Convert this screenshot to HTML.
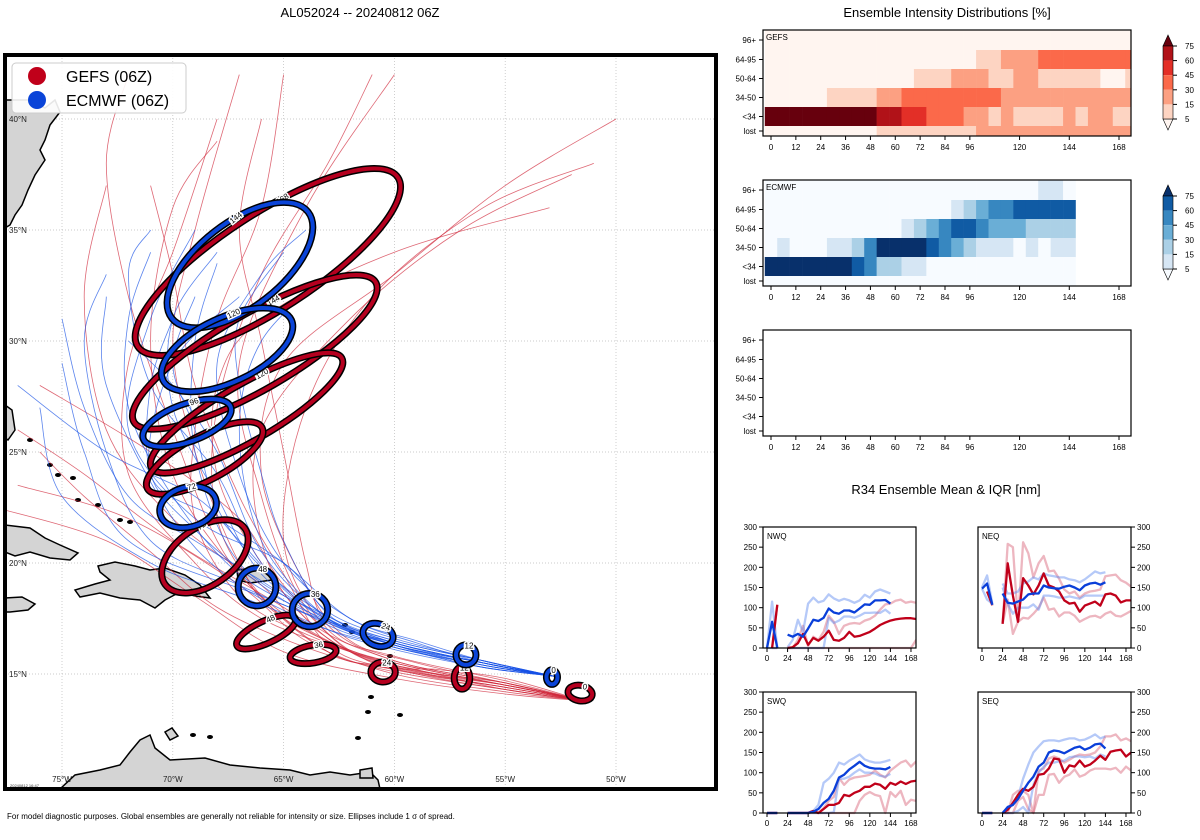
<!DOCTYPE html>
<html><head><meta charset="utf-8">
<style>
html,body{margin:0;padding:0;background:#fff;width:1200px;height:840px;overflow:hidden}
svg{display:block;font-family:"Liberation Sans","DejaVu Sans",sans-serif}
</style></head>
<body>
<svg id="root" width="1200" height="840" viewBox="0 0 1200 840" xmlns="http://www.w3.org/2000/svg">
<defs><clipPath id="mapclip"><rect x="7" y="57" width="707" height="730"/></clipPath></defs>
<text x="360" y="17" text-anchor="middle" font-size="13">AL052024 -- 20240812 06Z</text>
<text x="947" y="17" text-anchor="middle" font-size="13">Ensemble Intensity Distributions [%]</text>
<text x="946" y="494" text-anchor="middle" font-size="13">R34 Ensemble Mean &amp; IQR [nm]</text>
<text x="7" y="819" font-size="8">For model diagnostic purposes. Global ensembles are generally not reliable for intensity or size. Ellipses include 1 σ of spread.</text>
<g id="map"></g>
<g id="heat"></g>
<g id="r34"></g>
</svg>
<script>
// ---------- MAP DATA ----------
const lonTicks=[-75,-70,-65,-60,-55,-50];
const latTicks=[15,20,25,30,35,40];
const gefsTracks=[
[[-51.5,13.8],[-55,14.5],[-60,15.2],[-63,16],[-66,18.5],[-68,22],[-68,27],[-66,33],[-63,38],[-61,42]],
[[-51.5,13.8],[-55,14.6],[-60,15.4],[-65,17.5],[-67,20],[-69,25],[-70,30],[-69,35],[-67,42]],
[[-51.5,13.8],[-55,14.4],[-60,15.3],[-64,17],[-66,19],[-70,22],[-73,26],[-74,32],[-73,37]],
[[-51.5,13.8],[-55,14.6],[-59,15.5],[-62,16.5],[-64,19],[-66,24],[-65,29],[-60,33],[-55,37],[-50,40]],
[[-51.5,13.8],[-55,14.3],[-59,15],[-62,16],[-65,18],[-70,21],[-74,24],[-77,26]],
[[-51.5,13.8],[-55,14.5],[-60,15.5],[-63,16.5],[-66,18.5],[-68,21],[-70,26],[-72,32],[-73,38],[-72,42]],
[[-51.5,13.8],[-55,14.2],[-60,15],[-64,16.5],[-67,19],[-72,22],[-77,23.5]],
[[-51.5,13.8],[-55,14.7],[-60,15.8],[-63,17],[-65,21],[-64,27],[-61,32],[-56,36],[-51,38]],
[[-51.5,13.8],[-55,14.4],[-59,15.1],[-62,16],[-66,17.5],[-69,20],[-72,24],[-72,29],[-70,34],[-68,40]],
[[-51.5,13.8],[-55,14.5],[-60,15.3],[-63,16],[-67,19.5],[-70,24],[-71,30],[-70,36],[-68,39]],
[[-51.5,13.8],[-55,14.8],[-58,15.2],[-61,15.5],[-64,18],[-66,23],[-67,29],[-64,36],[-60,42]],
[[-51.5,13.8],[-55,14.3],[-59,15.2],[-62,16],[-65,19],[-67,22],[-71,25],[-76,28]],
[[-51.5,13.8],[-55,14.6],[-60,15.6],[-64,17.5],[-66,21],[-66,26],[-62,31],[-57,35],[-52,37.5]],
[[-51.5,13.8],[-55,14.1],[-60,14.8],[-65,16],[-69,18.5],[-73,21],[-78,22.5]],
[[-51.5,13.8],[-55,14.5],[-60,15.4],[-64,16.8],[-67,18.5],[-69,22],[-69,26],[-68,31],[-66,36],[-65,42]],
[[-51.5,13.8],[-55,14.4],[-60,15.2],[-63,16.3],[-65,19.5],[-67,23],[-69,28],[-70,33],[-71,37]],
[[-51.5,13.8],[-55,14.6],[-60,15.6],[-63,17.2],[-64,20],[-65,25],[-66,30],[-67,35],[-66,40]],
[[-51.5,13.8],[-55,14.3],[-60,15.1],[-64,16.2],[-68,18],[-71,20.5],[-74,23],[-76,25]],
[[-51.5,13.8],[-55,14.5],[-60,15.5],[-63,16.6],[-66,20],[-68,24],[-68,28],[-66,31],[-60,34],[-53,36]]
];
const ecmfTracks=[
[[-52.8,14.9],[-56,15.5],[-60,16.3],[-63,17.5],[-66,19.5],[-68,23],[-70,27],[-70,31],[-68,34]],
[[-52.8,14.9],[-56,15.4],[-60,16.2],[-63,17.3],[-67,19],[-71,21],[-73,25],[-74,30],[-73,33]],
[[-52.8,14.9],[-56,15.6],[-59,16.5],[-62,17.5],[-65,20],[-67,24],[-68,29],[-66,33],[-64,35]],
[[-52.8,14.9],[-56,15.3],[-60,16.1],[-63,17],[-67,19],[-70,22],[-73,28],[-73,32]],
[[-52.8,14.9],[-56,15.6],[-60,16.6],[-63,17.8],[-65,20],[-69,22],[-72,26],[-71,31],[-69,35]],
[[-52.8,14.9],[-56,15.3],[-59,16],[-62,17],[-66,18.5],[-72,21],[-74,25],[-75,29]],
[[-52.8,14.9],[-56,15.5],[-60,16.4],[-63,17.5],[-66,21],[-67,26],[-66,30],[-63,33]],
[[-52.8,14.9],[-56,15.5],[-59,16.4],[-62,17.5],[-65,20],[-68,22],[-71,24],[-70,29],[-67,32]],
[[-52.8,14.9],[-56,15.6],[-60,16.5],[-63,17.6],[-67,20],[-69,25],[-69,30],[-68,33.5]],
[[-52.8,14.9],[-56,15.3],[-60,16.2],[-63,17],[-67,18.5],[-71,20],[-75,23],[-76,27]],
[[-52.8,14.9],[-56,15.4],[-60,16.3],[-63,17.4],[-66,20],[-68,24],[-71,28],[-72,33],[-71,35]],
[[-52.8,14.9],[-56,15.5],[-60,16.4],[-64,18],[-67,21],[-69,23],[-73,25],[-77,28]],
[[-52.8,14.9],[-56,15.5],[-60,16.4],[-63,17.6],[-66,19.8],[-68,22.5],[-69,26],[-70,29],[-69,32]],
[[-52.8,14.9],[-56,15.4],[-60,16.2],[-63,17.2],[-66,19],[-69,21.5],[-71,24],[-71,28],[-70,31]],
[[-52.8,14.9],[-56,15.6],[-60,16.5],[-63,17.7],[-65,21],[-66,24],[-67,28],[-67,31],[-65,34]],
[[-52.8,14.9],[-56,15.4],[-60,16.3],[-63,17.3],[-66,19.2],[-69,21],[-72,23],[-74,27],[-75,31]],
[[-52.8,14.9],[-56,15.5],[-60,16.4],[-63,17.5],[-66,20.5],[-68,25],[-70,28],[-72,30]],
[[-52.8,14.9],[-56,15.5],[-60,16.3],[-63,17.4],[-67,19.5],[-70,23],[-72,27],[-72,31],[-71,34]]
];
const gefsEllHours=[0,12,24,36,48,72,96,120,144,168];
const gefsEllLon=[-51.62,-56.95,-60.51,-63.67,-65.79,-68.55,-68.56,-66.67,-66.3,-65.71];
const gefsEllLat=[14.14,14.82,15.09,15.9,16.89,20.3,24.73,26.76,29.5,33.56];
const gefsEllRx=[0.55,0.35,0.55,1.05,1.45,2.2,2.93,4.96,6.3,7.0];
const gefsEllRy=[0.35,0.5,0.45,0.4,0.5,1.3,1.0,1.26,1.7,2.15];
const gefsEllRot=[10,0,0,-10,-25,-35,-28,-30,-30,-33];
const ecmfEllHours=[0,12,24,36,48,72,96,120,144];
const ecmfEllLon=[-52.89,-56.77,-60.74,-63.81,-66.2,-69.31,-69.36,-67.55,-66.97];
const ecmfEllLat=[14.86,15.86,16.76,17.88,18.92,22.52,26.31,29.6,33.42];
const ecmfEllRx=[0.25,0.45,0.7,0.8,0.85,1.3,2.1,3.2,3.9];
const ecmfEllRy=[0.33,0.45,0.5,0.75,0.85,0.9,0.85,1.45,1.9];
const ecmfEllRot=[0,0,20,0,0,-15,-20,-25,-38];

const NS='http://www.w3.org/2000/svg';
function mk(tag,attrs,parent){const e=document.createElementNS(NS,tag);for(const k in attrs)e.setAttribute(k,attrs[k]);if(parent)parent.appendChild(e);return e;}
const lonX=lon=>62+(lon+75)*22.16;
const latY=lat=>119+(40-lat)*22.2;
const map=document.getElementById('map');
const mapBg=mk('rect',{x:5,y:55,width:711,height:734,fill:'#fff'},map);


const inner=mk('g',{'clip-path':'url(#mapclip)'},map);
lonTicks.forEach(l=>{const ln=mk('line',{x1:lonX(l),x2:lonX(l),y1:55,y2:789,stroke:'#bbb','stroke-width':0.7,'stroke-dasharray':'1,2'},inner);
});
latTicks.forEach(l=>{const ln=mk('line',{x1:5,x2:716,y1:latY(l),y2:latY(l),stroke:'#bbb','stroke-width':0.7,'stroke-dasharray':'1,2'},inner);
});
// land (approximate outlines)
const lands=[
'M5,100 L30,100 L45,108 L55,100 L60,112 L50,125 L45,140 L40,150 L45,160 L35,175 L28,190 L22,205 L15,215 L10,225 L5,228 Z',
'M5,525 L30,528 L45,538 L60,545 L78,553 L70,560 L50,558 L30,552 L15,556 L5,552 Z',
'M98,566 L115,562 L135,566 L150,570 L165,568 L185,575 L200,585 L210,598 L195,596 L180,592 L165,600 L155,608 L140,600 L120,598 L100,593 L80,597 L75,590 L95,584 L110,580 L100,572 Z',
'M5,598 L22,597 L35,604 L28,610 L10,612 L5,612 Z',
'M237,570 L255,568 L270,572 L272,580 L250,583 L238,580 Z',
'M5,405 L12,410 L15,430 L8,440 L5,438 Z',
'M60,789 L75,775 L100,770 L120,765 L130,752 L140,740 L150,735 L155,748 L170,760 L205,758 L230,765 L260,768 L290,770 L310,775 L330,772 L350,775 L370,772 L378,780 L380,789 Z',
'M165,732 L172,728 L178,736 L170,740 Z',
'M360,770 L372,768 L373,778 L360,778 Z'];
lands.forEach(d=>{const p=mk('path',{d:d,fill:'#d4d4d4',stroke:'#000','stroke-width':1.5},inner);
});
const isles=[[30,440],[50,465],[58,475],[78,500],[98,505],[120,520],[130,522],[73,478],[400,715],[368,712],[371,697],[358,738],[193,735],[210,737],[385,645],[390,656],[352,632],[345,625]];
isles.forEach(p=>{const e=mk('ellipse',{cx:p[0],cy:p[1],rx:3,ry:2,fill:'#000'},inner);
});
// tick labels (on top of land)
lonTicks.forEach(l=>{const t=mk('text',{x:lonX(l),y:782,'font-size':8,'text-anchor':'middle',fill:'#222'},inner);t.textContent=Math.abs(l)+'°W';
});
latTicks.forEach(l=>{const t=mk('text',{x:9,y:latY(l)+3,'font-size':8,fill:'#222'},inner);t.textContent=l+'°N';
});
// tracks
function pathFrom(pts){const P=pts.map(p=>[lonX(p[0]),latY(p[1])]);let d='M'+P[0][0].toFixed(1)+','+P[0][1].toFixed(1);
for(let i=0;i<P.length-1;i++){const p0=P[Math.max(0,i-1)],p1=P[i],p2=P[i+1],p3=P[Math.min(P.length-1,i+2)];
const c1=[p1[0]+(p2[0]-p0[0])/6,p1[1]+(p2[1]-p0[1])/6],c2=[p2[0]-(p3[0]-p1[0])/6,p2[1]-(p3[1]-p1[1])/6];
d+=' C'+c1.map(v=>v.toFixed(1)).join(',')+' '+c2.map(v=>v.toFixed(1)).join(',')+' '+p2.map(v=>v.toFixed(1)).join(',');}
return d;}
gefsTracks.forEach(t=>{const p=mk('path',{d:pathFrom(t),fill:'none',stroke:'#d0283a','stroke-width':0.8,'stroke-opacity':0.7},inner);
});
ecmfTracks.forEach(t=>{const p=mk('path',{d:pathFrom(t),fill:'none',stroke:'#1550e6','stroke-width':0.8,'stroke-opacity':0.7},inner);
});
// ellipses
function ellipses(hours,lon,lat,rx,ry,rot,col,name){
for(let i=hours.length-1;i>=0;i--){const cx=lonX(lon[i]),cy=latY(lat[i]);
const g=mk('g',{transform:`rotate(${rot[i]} ${cx} ${cy})`},inner);

mk('ellipse',{cx:cx,cy:cy,rx:rx[i]*22.16,ry:ry[i]*22.2,fill:'none',stroke:'#000','stroke-width':7},g);
mk('ellipse',{cx:cx,cy:cy,rx:rx[i]*22.16,ry:ry[i]*22.2,fill:'none',stroke:col,'stroke-width':4},g);
const lx=cx+rx[i]*22.16*0.3,ly=cy-ry[i]*22.2*0.95;
const t=mk('text',{x:lx,y:ly+3,'font-size':8,'text-anchor':'middle',fill:'#000',stroke:'#fff','stroke-width':3,'paint-order':'stroke'},g);
t.textContent=hours[i];}}
ellipses(gefsEllHours,gefsEllLon,gefsEllLat,gefsEllRx,gefsEllRy,gefsEllRot,'#b5001f','gefs');
ellipses(ecmfEllHours,ecmfEllLon,ecmfEllLat,ecmfEllRx,ecmfEllRy,ecmfEllRot,'#0a44d8','ecmwf');
const stamp=mk('text',{x:10,y:787,'font-size':4,fill:'#333'},inner);stamp.textContent='20240812 16:47';

// frame
const fr=mk('rect',{x:5,y:55,width:711,height:734,fill:'none',stroke:'#000','stroke-width':4},map);

// legend
const lg=mk('g',{},map);
mk('rect',{x:12,y:63,width:174,height:50,rx:4,fill:'#fff','fill-opacity':0.9,stroke:'#ccc'},lg);
[['GEFS (06Z)','#c0001a',76],['ECMWF (06Z)','#0a44d8',100]].forEach(e=>{
const g=mk('g',{},lg);
mk('circle',{cx:37,cy:e[2],r:9,fill:e[1]},g);const t=mk('text',{x:66,y:e[2]+6,'font-size':16},g);t.textContent=e[0];});

// ---------- HEATMAP DATA ----------
const heatHours=[0,6,12,18,24,30,36,42,48,54,60,66,72,78,84,90,96,102,108,114,120,126,132,138,144,150,156,162,168,174];
const heatRows=['96+','64-95','50-64','34-50','<34','lost'];
const heatXTicks=[0,12,24,36,48,60,72,84,96,120,144,168];
const cbarLevels=[5,15,30,45,60,75];
const gefs96=[0,0,0,0,0,0,0,0,0,0,0,0,0,0,0,0,0,0,0,0,0,0,0,0,0,0,0,0,0,0];
const gefs64=[0,0,0,0,0,0,0,0,0,0,0,0,0,0,0,0,0,10,10,20,20,20,35,35,35,35,35,35,35,35];
const gefs50=[0,0,0,0,0,0,0,0,0,0,0,0,10,10,10,20,20,20,10,10,20,20,10,10,10,10,10,2,2,10];
const gefs34=[0,0,0,0,0,10,10,10,10,20,20,35,35,35,35,35,35,35,35,20,20,20,20,20,20,20,20,20,20,20];
const gefsLt34=[80,80,80,80,80,80,80,80,80,65,65,50,50,35,35,35,20,20,10,20,10,10,10,10,20,10,20,20,10,10];
const gefsLost=[0,0,0,0,0,0,0,0,0,10,10,10,10,10,10,10,10,20,20,20,20,20,20,20,20,20,20,20,20,20];
const N=null;
const ecmf96=[2,2,2,2,2,2,2,2,2,2,2,2,2,2,2,2,2,2,2,2,2,2,10,10,2,N,N,N,N,N];
const ecmf64=[2,2,2,2,2,2,2,2,2,2,2,2,2,2,2,10,20,35,50,50,65,65,65,65,65,N,N,N,N,N];
const ecmf50=[2,2,2,2,2,2,2,2,2,2,2,10,20,35,50,65,65,50,35,35,35,20,20,20,20,N,N,N,N,N];
const ecmf34=[2,10,2,2,2,10,10,20,50,80,80,80,80,65,50,35,20,10,10,10,2,10,2,10,10,N,N,N,N,N];
const ecmfLt34=[80,80,80,80,80,80,80,65,50,20,20,10,10,2,2,2,2,2,2,2,2,2,2,2,2,N,N,N,N,N];
const ecmfLost=[2,2,2,2,2,2,2,2,2,2,2,2,2,2,2,2,2,2,2,2,2,2,2,2,2,N,N,N,N,N];
const reds=['#fff5f0','#fdd4c2','#fca082','#fb694a','#e32f27','#b11218','#67000d'];
const blues=['#f7fbff','#d6e6f4','#abd0e6','#6aaed6','#3787c0','#105ba4','#08306b'];
const heat=document.getElementById('heat');
const hx=h=>771+h*2.0714;
function colorFor(v,pal){if(v==null)return null;let i=0;while(i<cbarLevels.length&&v>=cbarLevels[i])i++;return pal[i];}
function heatPanel(y0,rows,pal,label,name){
const g=mk('g',{},heat);
mk('rect',{x:763,y:y0,width:368,height:106,fill:'#fff'},g);
const bounds=[0,20,39,58,77,96,106];
if(rows){rows.forEach((row,r)=>{row.forEach((v,c)=>{const col=colorFor(v,pal);if(!col)return;
const x1=Math.max(763,hx(heatHours[c]-3)),x2=Math.min(1131,hx(heatHours[c]+3));
const cell=mk('rect',{x:x1,y:y0+bounds[r],width:x2-x1+0.3,height:bounds[r+1]-bounds[r]+0.3,fill:col},g);
});});}
mk('rect',{x:763,y:y0,width:368,height:106,fill:'none',stroke:'#000','stroke-width':1.2},g);
if(label){const t=mk('text',{x:766,y:y0+10,'font-size':8},g);t.textContent=label;}
heatRows.forEach((rl,r)=>{const yc=y0+(r<5?(bounds[r]+bounds[r+1])/2:101);
mk('line',{x1:759,x2:763,y1:yc,y2:yc,stroke:'#000'},g);
const t=mk('text',{x:756,y:yc+3,'font-size':8,'text-anchor':'end'},g);t.textContent=rl;
});
heatXTicks.forEach(h=>{mk('line',{x1:hx(h),x2:hx(h),y1:y0+106,y2:y0+110,stroke:'#000'},g);
const t=mk('text',{x:hx(h),y:y0+120,'font-size':8,'text-anchor':'middle'},g);t.textContent=h;
});}
heatPanel(30,[gefs96,gefs64,gefs50,gefs34,gefsLt34,gefsLost],reds,'GEFS','gefs-heatmap');
heatPanel(180,[ecmf96,ecmf64,ecmf50,ecmf34,ecmfLt34,ecmfLost],blues,'ECMWF','ecmwf-heatmap');
heatPanel(330,null,reds,'','empty-heatmap');
function colorbar(y0,pal,name){const g=mk('g',{},heat);
const top=y0+16,bot=y0+89,step=(bot-top)/5;
mk('polygon',{points:`1163,${top} 1168,${y0+5} 1173,${top}`,fill:pal[6],stroke:'#000','stroke-width':0.6},g);
mk('polygon',{points:`1163,${bot} 1168,${bot+11} 1173,${bot}`,fill:pal[0],stroke:'#000','stroke-width':0.6},g);
for(let i=0;i<5;i++){mk('rect',{x:1163,y:top+i*step,width:10,height:step,fill:pal[5-i]},g);}
mk('rect',{x:1163,y:top,width:10,height:bot-top,fill:'none',stroke:'#000','stroke-width':0.6},g);
cbarLevels.slice().reverse().forEach((lv,i)=>{const yy=top+i*step;mk('line',{x1:1173,x2:1177,y1:yy,y2:yy,stroke:'#000'},g);
const t=mk('text',{x:1185,y:yy+3,'font-size':8},g);t.textContent=lv;});}
colorbar(30,reds,'gefs-colorbar');
colorbar(180,blues,'ecmwf-colorbar');

// ---------- R34 DATA ----------
const r34Hours=[0,6,12,18,24,30,36,42,48,54,60,66,72,78,84,90,96,102,108,114,120,126,132,138,144,150,156,162,168,174];
const r34XTicks=[0,24,48,72,96,120,144,168];
const r34YTicks=[0,50,100,150,200,250,300];
const nwqEMean=[0,65,0,N,33,28,35,28,48,70,67,75,98,88,85,93,93,88,98,108,107,118,118,119,110,N,N,N,N,N];
const nwqEQ75=[0,115,0,N,2,20,70,40,110,125,113,117,133,123,117,122,118,112,118,132,125,140,145,140,135,N,N,N,N,N];
const nwqEQ25=[0,0,0,N,0,0,0,0,0,0,0,0,75,62,68,78,78,75,80,87,87,88,87,95,85,N,N,N,N,N];
const nwqGMean=[N,0,107,N,0,2,12,35,8,25,18,28,43,20,18,25,40,28,30,35,40,48,57,63,68,71,73,74,74,72];
const nwqGQ75=[N,0,107,N,0,0,20,55,5,28,20,40,80,65,35,55,60,62,60,68,72,80,95,108,110,117,120,112,115,112];
const nwqGQ25=[N,0,0,N,0,0,0,0,0,0,0,0,0,0,0,0,0,0,0,0,0,0,0,0,0,0,0,0,0,20];
const neqEMean=[147,160,107,N,135,112,110,115,120,133,135,135,155,150,148,147,152,155,150,143,155,160,162,157,163,N,N,N,N,N];
const neqEQ75=[150,180,110,N,160,135,135,140,160,165,175,170,185,180,178,175,175,170,168,163,170,180,190,185,188,N,N,N,N,N];
const neqEQ25=[147,120,110,N,150,110,85,100,100,100,108,95,130,130,128,125,125,128,125,122,130,130,130,130,130,N,N,N,N,N];
const neqGMean=[N,140,107,N,60,210,130,65,173,155,133,155,185,155,150,140,118,110,112,90,105,110,115,105,133,135,130,113,118,118];
const neqGQ75=[N,140,105,N,60,258,250,65,262,235,175,210,228,190,192,172,145,135,140,125,135,140,142,145,178,180,182,168,162,152];
const neqGQ25=[N,140,105,N,60,120,35,65,75,73,85,100,125,95,98,78,88,88,80,65,72,78,80,75,85,90,80,78,85,92];
const swqEMean=[0,0,0,N,0,0,0,0,0,3,10,25,35,55,88,95,108,117,127,117,112,110,110,108,114,N,N,N,N,N];
const swqEQ75=[0,0,0,N,0,0,0,0,0,5,20,75,85,100,125,120,130,137,145,133,128,125,125,128,132,N,N,N,N,N];
const swqEQ25=[0,0,0,N,0,0,0,0,0,0,0,0,0,2,85,85,90,100,108,100,100,98,92,90,97,N,N,N,N,N];
const swqGMean=[0,0,0,N,0,0,0,0,0,5,0,10,20,20,25,45,42,50,55,65,65,73,70,60,75,70,78,72,78,80];
const swqGQ75=[0,0,0,N,0,0,0,0,0,5,0,12,30,40,87,70,83,88,90,92,95,105,95,88,105,115,125,130,115,128];
const swqGQ25=[0,0,0,N,0,0,0,0,0,0,0,0,0,0,0,0,0,0,30,45,52,45,42,0,52,40,55,20,33,30];
const seqEMean=[0,0,0,N,0,15,20,35,55,75,90,115,125,150,155,153,148,155,162,165,157,162,170,172,160,N,N,N,N,N];
const seqEQ75=[0,0,0,N,0,10,20,40,85,120,150,165,178,180,180,178,182,185,185,180,182,188,195,185,190,N,N,N,N,N];
const seqEQ25=[0,0,0,N,0,0,0,5,15,0,70,100,115,125,125,128,130,138,140,140,138,140,135,145,140,N,N,N,N,N];
const seqGMean=[0,0,0,N,0,8,25,45,60,55,65,95,97,110,135,133,100,118,115,130,115,120,130,142,132,152,155,157,140,150];
const seqGQ75=[0,0,0,N,0,0,45,55,55,45,0,105,110,135,140,135,125,132,140,145,143,145,150,165,190,190,195,180,185,178];
const seqGQ25=[0,0,0,N,0,0,0,30,40,10,0,45,45,95,97,75,90,95,108,90,95,105,110,110,110,108,112,100,115,105];
const r34=document.getElementById('r34');
function r34Panel(x0,y0,name,label,right,S){
const W=153,H=121;const X=h=>x0+4+h*0.857;const Y=v=>y0+H-v*H/300;
const g=mk('g',{},r34);
const series=[[S[2],'rgba(220,110,130,0.5)','gefs-q25'],[S[1],'rgba(220,110,130,0.5)','gefs-q75'],
[S[5],'rgba(90,135,240,0.45)','ecmwf-q25'],[S[4],'rgba(90,135,240,0.45)','ecmwf-q75'],
[S[0],'#c0001a','gefs-mean'],[S[3],'#0a3fd9','ecmwf-mean']];
const clip='c'+name;const cp=mk('clipPath',{id:clip},g);mk('rect',{x:x0,y:y0-2,width:W,height:H+4},cp);
series.forEach(s=>{let d='',pen=false;s[0].forEach((v,i)=>{if(v==null){pen=false;return;}
d+=(pen?'L':'M')+X(r34Hours[i]).toFixed(1)+','+Y(v).toFixed(1)+' ';pen=true;});
const p=mk('path',{d:d,fill:'none',stroke:s[1],'stroke-width':2.3,'stroke-linejoin':'round','clip-path':`url(#${clip})`},g);
});
mk('rect',{x:x0,y:y0,width:W,height:H,fill:'none',stroke:'#000','stroke-width':1.2},g);
const t=mk('text',{x:x0+4,y:y0+12,'font-size':8},g);t.textContent=label;
r34YTicks.forEach(v=>{const yy=Y(v);
if(right){mk('line',{x1:x0+W,x2:x0+W+4,y1:yy,y2:yy,stroke:'#000'},g);const tt=mk('text',{x:x0+W+6,y:yy+3,'font-size':8},g);tt.textContent=v;}
else{mk('line',{x1:x0-4,x2:x0,y1:yy,y2:yy,stroke:'#000'},g);const tt=mk('text',{x:x0-6,y:yy+3,'font-size':8,'text-anchor':'end'},g);tt.textContent=v;}});
r34XTicks.forEach(h=>{mk('line',{x1:X(h),x2:X(h),y1:y0+H,y2:y0+H+4,stroke:'#000'},g);
const tt=mk('text',{x:X(h),y:y0+H+13,'font-size':8,'text-anchor':'middle'},g);tt.textContent=h;});}
r34Panel(763,527,'nwq-panel','NWQ',false,[nwqGMean,nwqGQ75,nwqGQ25,nwqEMean,nwqEQ75,nwqEQ25]);
r34Panel(978,527,'neq-panel','NEQ',true,[neqGMean,neqGQ75,neqGQ25,neqEMean,neqEQ75,neqEQ25]);
r34Panel(763,692,'swq-panel','SWQ',false,[swqGMean,swqGQ75,swqGQ25,swqEMean,swqEQ75,swqEQ25]);
r34Panel(978,692,'seq-panel','SEQ',true,[seqGMean,seqGQ75,seqGQ25,seqEMean,seqEQ75,seqEQ25]);
</script>
</body></html>
